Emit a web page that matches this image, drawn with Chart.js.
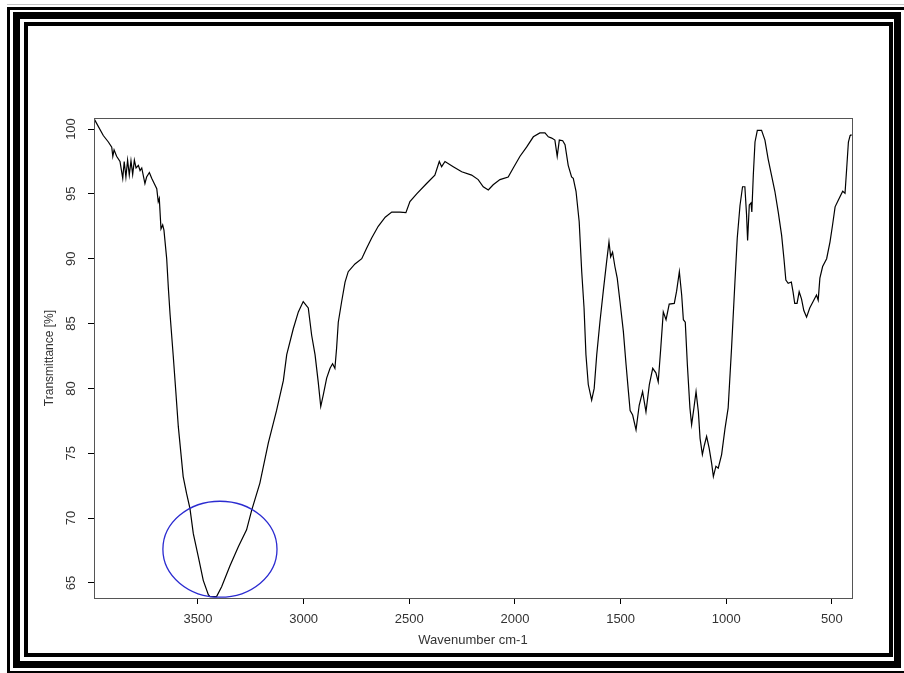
<!DOCTYPE html>
<html>
<head>
<meta charset="utf-8">
<script src="https://cdn.jsdelivr.net/npm/chart.js@4/dist/chart.umd.min.js"></script>
<style>
  html, body { margin: 0; padding: 0; background: #fff; }
  #wrap { position: relative; width: 904px; height: 673px; overflow: hidden; background: #fff; }
  #c { position: absolute; left: 0; top: 0; }
  .fr { position: absolute; box-sizing: border-box; border-style: solid; border-color: #000; pointer-events: none; }
  .gl { position: absolute; background: #c4c4c4; pointer-events: none; }
</style>
</head>
<body>
<div id="wrap">
  <canvas id="c" width="904" height="673"></canvas>
  <div class="gl" style="left:7px; top:4px; width:897px; height:1px;"></div>
  <div class="fr" style="left:7px; top:7px; width:900px; height:667px; border-width:3px;"></div>
  <div class="fr" style="left:13px; top:12px; width:888px; height:656px; border-width:7px;"></div>
  <div class="fr" style="left:24px; top:22px; width:869px; height:635px; border-width:4px;"></div>
</div>
<script>
// ---- data ----
const wavenumbers = [
  3992, 3948, 3924, 3908, 3903, 3897, 3885, 3869, 3856, 3849, 3841, 3833, 3825, 3817, 3809, 3801,
  3793, 3782, 3774, 3766, 3751, 3743, 3730, 3719, 3707, 3695, 3688, 3683, 3675, 3667, 3661, 3648,
  3640, 3632, 3617, 3605, 3593, 3570, 3554, 3538, 3522, 3498, 3475, 3451, 3443, 3412, 3388, 3349,
  3309, 3270, 3246, 3207, 3167, 3128, 3096, 3080, 3049, 3025, 3002, 2978, 2962, 2946, 2931, 2919,
  2907, 2891, 2875, 2863, 2852, 2844, 2836, 2820, 2804, 2789, 2757, 2725, 2702, 2678, 2647, 2614,
  2583, 2544, 2516, 2497, 2465, 2418, 2379, 2358, 2347, 2331, 2292, 2252, 2205, 2174, 2150, 2126,
  2103, 2071, 2032, 2008, 1976, 1945, 1913, 1882, 1858, 1842, 1826, 1811, 1800, 1790, 1774, 1763,
  1748, 1732, 1724, 1711, 1696, 1684, 1673, 1664, 1653, 1637, 1625, 1613, 1598, 1582, 1566, 1555,
  1547, 1538, 1527, 1516, 1503, 1487, 1474, 1463, 1455, 1443, 1427, 1412, 1396, 1380, 1364, 1348,
  1333, 1322, 1310, 1298, 1285, 1270, 1246, 1235, 1222, 1211, 1203, 1194, 1184, 1172, 1164, 1153,
  1143, 1132, 1124, 1113, 1104, 1093, 1081, 1069, 1061, 1049, 1038, 1022, 1006, 991, 975, 959,
  948, 935, 923, 912, 904, 899, 891, 883, 879, 872, 864, 853, 833, 817, 802, 786,
  770, 754, 738, 727, 718, 707, 692, 684, 676, 665, 655, 644, 633, 620, 605, 589,
  573, 565, 557, 544, 525, 509, 497, 485, 470, 449, 438, 430, 422, 414, 410
];
const transmittance = [
  100.8, 99.5, 99.0, 98.6, 97.9, 98.4, 97.9, 97.5, 96.2, 97.5, 96.3, 97.6, 96.45, 97.55, 96.5, 97.6,
  97.0, 97.2, 96.8, 97.0, 95.8, 96.3, 96.65, 96.2, 95.8, 95.4, 94.4, 94.65, 92.3, 92.6, 92.2, 90.0,
  87.7, 85.7, 82.5, 79.8, 77.05, 73.2, 71.9, 70.75, 68.8, 67.0, 65.2, 64.1, 63.95, 63.95, 64.7, 66.3,
  67.8, 69.1, 70.6, 72.7, 75.8, 78.3, 80.6, 82.6, 84.6, 85.9, 86.7, 86.2, 84.1, 82.6, 80.5, 78.6,
  79.5, 80.8, 81.55, 81.9, 81.55, 83.1, 85.1, 86.7, 88.2, 89.0, 89.6, 90.0, 90.8, 91.6, 92.5, 93.2,
  93.6, 93.6, 93.55, 94.4, 95.0, 95.8, 96.45, 97.5, 97.1, 97.5, 97.1, 96.7, 96.45, 96.1, 95.55, 95.3,
  95.7, 96.1, 96.3, 97.0, 97.9, 98.6, 99.4, 99.7, 99.7, 99.4, 99.3, 99.15, 97.9, 99.15, 99.1, 98.8,
  97.2, 96.3, 96.2, 95.2, 92.85, 89.0, 86.2, 82.6, 80.3, 79.1, 80.0, 82.6, 85.1, 87.5, 89.8, 91.3,
  90.15, 90.5, 89.4, 88.5, 86.7, 84.4, 81.8, 79.75, 78.3, 77.95, 76.8, 78.7, 79.75, 78.2, 80.3, 81.55,
  81.2, 80.5, 83.1, 85.9, 85.3, 86.5, 86.55, 87.5, 89.0, 87.2, 85.3, 85.1, 81.8, 78.5, 77.2, 78.5,
  79.75, 78.2, 76.15, 74.9, 75.6, 76.3, 75.4, 74.2, 73.2, 74.0, 73.85, 74.9, 76.9, 78.5, 83.1, 88.2,
  91.6, 94.1, 95.55, 95.55, 93.4, 91.4, 94.15, 94.3, 93.6, 96.45, 99.0, 99.9, 99.9, 99.15, 97.7, 96.45,
  95.2, 93.6, 91.8, 90.0, 88.35, 88.1, 88.2, 87.45, 86.55, 86.55, 87.45, 86.9, 86.0, 85.5, 86.2, 86.7,
  87.2, 86.8, 88.5, 89.4, 90.0, 91.3, 92.6, 94.0, 94.5, 95.2, 95.05, 97.0, 99.0, 99.5, 99.6
];
const xTickValues = [3500, 3000, 2500, 2000, 1500, 1000, 500];
const yTickValues = [65, 70, 75, 80, 85, 90, 95, 100];
const xAxisTitle = 'Wavenumber cm-1';
const yAxisTitle = 'Transmittance [%]';
const xRange = [405, 3992];
const yRange = [63.84, 100.85];
// highlight ellipse (data units): centre wavenumber, centre %, radius in wavenumber, radius in %
const ellipseCenter = [3396, 67.6];
const ellipseRadius = [270, 3.7];

const points = wavenumbers.map((w, i) => ({ x: w, y: transmittance[i] }));

const frameBox = {
  id: 'frameBox',
  afterDraw(chart) {
    const { ctx, chartArea: a } = chart;
    ctx.save();
    ctx.strokeStyle = '#555';
    ctx.lineWidth = 1;
    ctx.strokeRect(Math.round(a.left) + 0.5, Math.round(a.top) + 0.5,
                   Math.round(a.right - a.left), Math.round(a.bottom - a.top));
    ctx.restore();
  }
};

const ellipsePlugin = {
  id: 'ellipseMark',
  afterDatasetsDraw(chart) {
    const { ctx, scales: { x, y } } = chart;
    const cx = x.getPixelForValue(ellipseCenter[0]);
    const cy = y.getPixelForValue(ellipseCenter[1]);
    const rx = Math.abs(x.getPixelForValue(ellipseCenter[0] + ellipseRadius[0]) - cx);
    const ry = Math.abs(y.getPixelForValue(ellipseCenter[1] + ellipseRadius[1]) - cy);
    ctx.save();
    ctx.strokeStyle = '#2b2bd0';
    ctx.lineWidth = 1.3;
    ctx.beginPath();
    ctx.ellipse(cx, cy, rx, ry, 0, 0, Math.PI * 2);
    ctx.stroke();
    ctx.restore();
  }
};

const tickFont = { family: '"Liberation Sans", Arial, sans-serif', size: 13 };

new Chart(document.getElementById('c'), {
  type: 'line',
  data: {
    datasets: [{
      data: points,
      borderColor: '#000',
      borderWidth: 1.2,
      pointRadius: 0,
      tension: 0,
      fill: false
    }]
  },
  options: {
    responsive: false,
    animation: false,
    events: [],
    layout: { padding: { left: 0, top: 118, right: 52, bottom: 0 } },
    plugins: { legend: { display: false }, tooltip: { enabled: false } },
    scales: {
      x: {
        type: 'linear',
        reverse: true,
        min: xRange[0],
        max: xRange[1],
        afterBuildTicks: s => { s.ticks = xTickValues.map(v => ({ value: v })); },
        afterFit: s => { s.height = 75; },
        grid: { drawOnChartArea: false, drawTicks: true, tickLength: 6, tickColor: '#000', tickWidth: 1 },
        border: { display: true, color: '#000', width: 1 },
        ticks: { color: '#333', font: tickFont, padding: 8, maxRotation: 0, autoSkip: false, callback: v => String(v) },
        title: { display: true, text: xAxisTitle, color: '#333', font: tickFont, padding: { top: 0, bottom: 25 } }
      },
      y: {
        type: 'linear',
        min: yRange[0],
        max: yRange[1],
        afterBuildTicks: s => { s.ticks = yTickValues.map(v => ({ value: v })); },
        afterFit: s => { s.width = 94; },
        grid: { drawOnChartArea: false, drawTicks: true, tickLength: 6, tickColor: '#000', tickWidth: 1 },
        border: { display: true, color: '#000', width: 1 },
        ticks: { color: '#333', font: tickFont, padding: 6, minRotation: 90, maxRotation: 90, crossAlign: 'center', autoSkip: false, callback: v => String(v) },
        title: { display: true, text: yAxisTitle, color: '#333', font: { family: '"Liberation Sans", Arial, sans-serif', size: 12 }, padding: { top: 42, bottom: 0 } }
      }
    }
  },
  plugins: [frameBox, ellipsePlugin]
});
</script>
</body>
</html>
